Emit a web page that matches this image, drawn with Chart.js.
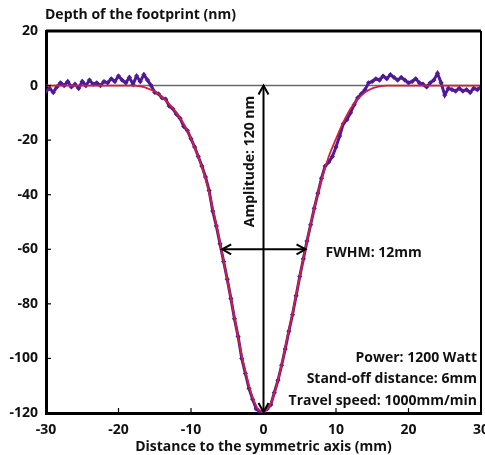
<!DOCTYPE html>
<html>
<head>
<meta charset="utf-8">
<script src="https://cdn.jsdelivr.net/npm/chart.js@4/dist/chart.umd.min.js"></script>
<style>
html,body{margin:0;padding:0;background:#fff;}
#wrap{width:485px;height:455px;position:relative;}
</style>
</head>
<body>
<div id="wrap"><canvas id="c" width="485" height="455"></canvas></div>
<script>
// Measured footprint depth (nm) vs distance (mm)
const dataX = [-30,-29.5,-29,-28.5,-28,-27.5,-27,-26.5,-26,-25.5,-25,-24.5,-24,-23.5,-23,-22.5,-22,-21.5,-21,-20.5,-20,-19.5,-19,-18.5,-18,-17.5,-17,-16.5,-16,-15.5,-15,-14.5,-14,-13.5,-13,-12.5,-12,-11.5,-11,-10.5,-10,-9.5,-9,-8.5,-8,-7.5,-7,-6.5,-6,-5.5,-5,-4.5,-4,-3.5,-3,-2.5,-2,-1.5,-1,-0.5,0,0.5,1,1.5,2,2.5,3,3.5,4,4.5,5,5.5,6,6.5,7,7.5,8,8.5,9,9.5,10,10.5,11,11.5,12,12.5,13,13.5,14,14.5,15,15.5,16,16.5,17,17.5,18,18.5,19,19.5,20,20.5,21,21.5,22,22.5,23,23.5,24,24.5,25,25.5,26,26.5,27,27.5,28,28.5,29,29.5,30];
const dataY = [-2,-1,-2.5,-0.5,1,0,1.5,-0.5,0.5,-1,1.5,0,2,0.5,1,0,1.5,1,2.5,1.5,3.5,2,1,3,0.5,3.5,1.5,4,2,0,-2.5,-3,-4.5,-5,-7.5,-8.5,-10.5,-12,-15,-16.5,-19.5,-22.5,-26,-29.5,-33.5,-38.5,-46,-51.5,-58,-64.5,-71,-78,-85.5,-92,-100,-105.5,-111,-115,-118.5,-119.5,-119.5,-118.5,-117,-112.5,-108,-102.5,-96.5,-90,-84,-77,-70,-63.5,-57,-51,-45,-39.5,-34,-29.5,-28,-26,-22.5,-18.5,-14,-12.5,-10,-7,-4.5,-3,-1.5,1,1.5,2.5,2,3.5,2.5,4,3,2,3,2,1,1.5,2.5,1,0.5,-0.5,1,2,4.5,1,-3.5,-1,-1.5,-2,-1,-2,-1.5,-2.5,-1,-1.5,-0.5];
// Fitted curve
const fitX = [-30,-29,-28,-27,-26,-25,-24,-23,-22,-21,-20,-19,-18,-17,-16,-15,-14,-13,-12,-11,-10,-9,-8,-7,-6,-5,-4,-3,-2,-1,0,1,2,3,4,5,6,7,8,9,10,11,12,13,14,15,16,17,18,19,20,21,22,23,24,25,26,27,28,29,30];
const fitY = [0,0,0,0,0,0,0,0,0,0,0,0,0,-0.3,-1.0,-2.2,-4.2,-6.8,-10,-14,-19.5,-26,-34,-45,-57.5,-71,-85,-99,-110,-117.5,-119.5,-116.5,-108,-96,-83.5,-70,-57,-45,-34.5,-26,-19.5,-13.5,-8.5,-5,-2.5,-1,-0.3,0,0,0,0,0,0,0,0,0,0,0,0,0,0];
// Axis ticks
const xTicks = [-30,-20,-10,0,10,20,30];
const yTicks = [20,0,-20,-40,-60,-80,-100,-120];
// Annotation values
const amplitude = [0, 0, -120];      // x, yTop, yBottom
const fwhm = [-5.7, 5.8, -60];       // xLeft, xRight, y
const zeroLine = 0;
const infoLines = ["Power: 1200 Watt", "Stand-off distance: 6mm", "Travel speed: 1000mm/min"];

const FONT = "'Open Sans', 'DejaVu Sans', sans-serif";

function arrowHead(ctx, x, y, dx, dy, len, half) {
  const bx = x - dx*len, by = y - dy*len;
  const px = -dy, py = dx;
  ctx.beginPath();
  ctx.moveTo(bx + px*half, by + py*half);
  ctx.lineTo(x, y);
  ctx.lineTo(bx - px*half, by - py*half);
  ctx.stroke();
}

const extras = {
  id: 'extras',
  beforeDatasetsDraw(chart) {
    const {ctx, chartArea: a, scales: {x, y}} = chart;
    ctx.save();
    ctx.strokeStyle = '#6a6a6a';
    ctx.lineWidth = 1.5;
    const y0 = y.getPixelForValue(zeroLine);
    ctx.beginPath(); ctx.moveTo(a.left, y0); ctx.lineTo(a.right, y0); ctx.stroke();
    ctx.restore();
  },
  afterDatasetsDraw(chart) {
    const {ctx, chartArea: a, scales: {x, y}} = chart;
    ctx.save();
    ctx.strokeStyle = '#000'; ctx.lineWidth = 1.2;
    xTicks.forEach(v => {
      const px = x.getPixelForValue(v);
      ctx.beginPath(); ctx.moveTo(px, a.bottom); ctx.lineTo(px, a.bottom - 5); ctx.stroke();
    });
    yTicks.forEach(v => {
      const py = y.getPixelForValue(v);
      ctx.beginPath(); ctx.moveTo(a.left, py); ctx.lineTo(a.left + 5, py); ctx.stroke();
    });
    ctx.lineWidth = 3;
    ctx.beginPath(); ctx.moveTo(a.left, a.top); ctx.lineTo(a.right, a.top); ctx.stroke();
    ctx.lineWidth = 2;
    ctx.beginPath(); ctx.moveTo(a.right, a.top); ctx.lineTo(a.right, a.bottom); ctx.stroke();

    ctx.lineWidth = 2; ctx.strokeStyle = '#000';
    const ax = x.getPixelForValue(amplitude[0]);
    const ayT = y.getPixelForValue(amplitude[1]);
    const ayB = y.getPixelForValue(amplitude[2]);
    ctx.beginPath(); ctx.moveTo(ax, ayT); ctx.lineTo(ax, ayB - 1); ctx.stroke();
    arrowHead(ctx, ax, ayT, 0, -1, 9, 5);
    arrowHead(ctx, ax, ayB - 1, 0, 1, 9, 5);
    const fxL = x.getPixelForValue(fwhm[0]);
    const fxR = x.getPixelForValue(fwhm[1]);
    const fy = y.getPixelForValue(fwhm[2]);
    ctx.beginPath(); ctx.moveTo(fxL, fy); ctx.lineTo(fxR, fy); ctx.stroke();
    arrowHead(ctx, fxL, fy, -1, 0, 9, 5);
    arrowHead(ctx, fxR, fy, 1, 0, 9, 5);

    ctx.fillStyle = '#111';
    ctx.font = "bold 14px " + FONT;
    ctx.textBaseline = 'middle';
    ctx.save();
    ctx.translate(ax - 13, (ayT + fy) / 2 - 6);
    ctx.rotate(-Math.PI / 2);
    ctx.textAlign = 'center';
    ctx.fillText('Amplitude: 120 nm', 0, 0);
    ctx.restore();
    ctx.textAlign = 'left';
    ctx.fillText('FWHM: 12mm', fxR + 20, fy + 4);
    ctx.textAlign = 'right';
    infoLines.forEach((t, i) => {
      ctx.fillText(t, a.right - 4, a.bottom - 55 + i * 21.5);
    });
    ctx.restore();
  },
  afterDraw(chart) {
    const {ctx, chartArea: a} = chart;
    ctx.save();
    ctx.fillStyle = '#111';
    ctx.font = "bold 14px " + FONT;
    ctx.textAlign = 'left';
    ctx.textBaseline = 'middle';
    ctx.fillText('Depth of the footprint (nm)', a.left - 1, 15);
    ctx.restore();
  }
};

const toPts = (xs, ys) => xs.map((v, i) => ({x: v, y: ys[i]}));

new Chart(document.getElementById('c'), {
  type: 'scatter',
  data: {
    datasets: [
      {
        label: 'Measured',
        data: toPts(dataX, dataY),
        showLine: true,
        borderColor: '#4f1a98',
        borderWidth: 3,
        backgroundColor: '#4f1a98',
        pointStyle: 'rectRot',
        pointRadius: 2.6,
        pointBorderWidth: 0,
        tension: 0,
        order: 2
      },
      {
        label: 'Fit',
        data: toPts(fitX, fitY),
        showLine: true,
        borderColor: '#d0203a',
        borderWidth: 1.8,
        pointRadius: 0,
        cubicInterpolationMode: 'monotone',
        order: 1
      }
    ]
  },
  options: {
    responsive: false,
    animation: false,
    events: [],
    layout: {padding: {left: 0, right: 4, top: 31, bottom: 0}},
    plugins: {legend: {display: false}, tooltip: {enabled: false}},
    scales: {
      x: {
        type: 'linear',
        min: -30, max: 30,
        afterBuildTicks: s => { s.ticks = xTicks.map(v => ({value: v})); },
        afterFit: s => { s.height = 42; s.paddingLeft = 0; s.paddingRight = 0; },
        grid: {display: false, drawTicks: false},
        border: {display: true, color: '#000', width: 3},
        ticks: {color: '#111', font: {family: FONT, size: 14, weight: 'bold'}, padding: 9, maxRotation: 0},
        title: {display: true, text: 'Distance to the symmetric axis (mm)', color: '#111',
                font: {family: FONT, size: 14, weight: 'bold'}, padding: {top: -5, bottom: 0}}
      },
      y: {
        type: 'linear',
        min: -120, max: 20,
        afterBuildTicks: s => { s.ticks = yTicks.map(v => ({value: v})); },
        afterFit: s => { s.width = 46; s.paddingTop = 0; s.paddingBottom = 0; },
        grid: {display: false, drawTicks: false},
        border: {display: true, color: '#000', width: 3},
        ticks: {color: '#111', font: {family: FONT, size: 14, weight: 'bold'}, padding: 8}
      }
    }
  },
  plugins: [extras]
});
</script>
</body>
</html>
